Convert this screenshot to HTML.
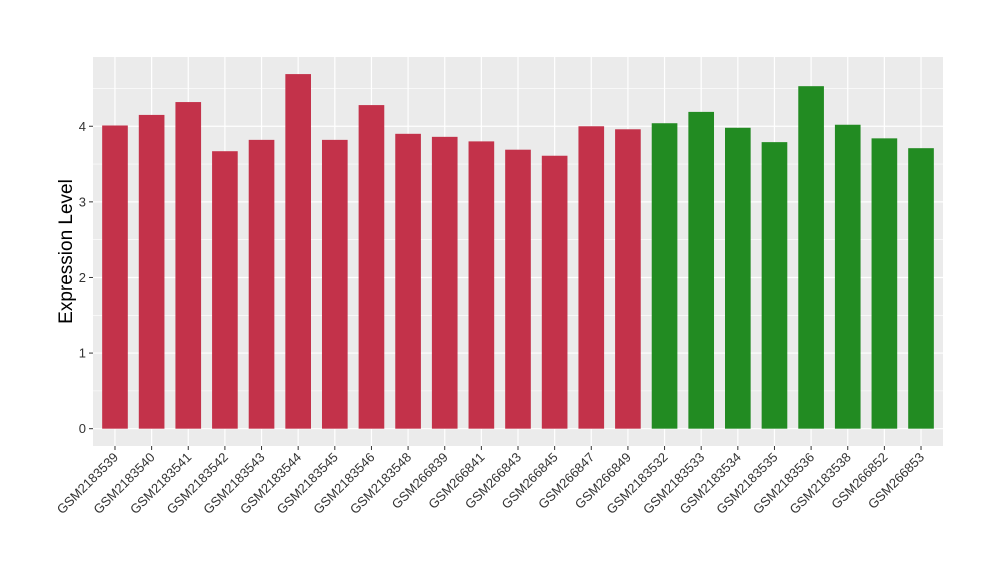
<!DOCTYPE html>
<html><head><meta charset="utf-8"><style>body{margin:0;background:#fff}svg{display:block;font-family:"Liberation Sans",Arial,sans-serif}</style></head>
<body>
<svg id="chart" width="1000" height="580"></svg>
<script>
const categories=["GSM2183539","GSM2183540","GSM2183541","GSM2183542","GSM2183543","GSM2183544","GSM2183545","GSM2183546","GSM2183548","GSM266839","GSM266841","GSM266843","GSM266845","GSM266847","GSM266849","GSM2183532","GSM2183533","GSM2183534","GSM2183535","GSM2183536","GSM2183538","GSM266852","GSM266853"];
const values=[4.01,4.15,4.32,3.67,3.82,4.69,3.82,4.28,3.90,3.86,3.80,3.69,3.61,4.00,3.96,4.04,4.19,3.98,3.79,4.53,4.02,3.84,3.71];
const groups=[0,0,0,0,0,0,0,0,0,0,0,0,0,0,0,1,1,1,1,1,1,1,1];
const yTicks=[0,1,2,3,4];
const colors=["#C3324A","#228B22"];
const NS="http://www.w3.org/2000/svg";
const svg=document.getElementById('chart');
const L=93,R=943,T=57,B=446;
const yMin=-0.229,yMax=4.916;
const y=v=>B-(v-yMin)/(yMax-yMin)*(B-T);
const step=(R-L)/(categories.length-1+1.2);
const x=i=>L+(0.6+i)*step;
function mk(tag,attrs,parent){const e=document.createElementNS(NS,tag);for(const k in attrs)e.setAttribute(k,attrs[k]);(parent||svg).appendChild(e);return e;}
let bg=mk('rect',{x:L,y:T,width:R-L,height:B-T,fill:'#EBEBEB'});


for(let i=0;i<yTicks.length;i++){
  const t=yTicks[i];
  const mv=t+0.5;
  if(y(mv)>T){let m=mk('line',{x1:L,x2:R,y1:y(mv),y2:y(mv),stroke:'#fff','stroke-width':0.6});
  
  }
  let g=mk('line',{x1:L,x2:R,y1:y(t),y2:y(t),stroke:'#fff','stroke-width':1.2});
  
  
  let tk=mk('line',{x1:L-4,x2:L,y1:y(t),y2:y(t),stroke:'#333','stroke-width':1});
  
  
  let lb=mk('text',{x:L-7,y:y(t)+4.5,'text-anchor':'end','font-size':13,fill:'#333'});
  lb.textContent=t;
  
  
}
const bw=step*0.7;
for(let i=0;i<categories.length;i++){
  let g=mk('line',{x1:x(i),x2:x(i),y1:T,y2:B,stroke:'#fff','stroke-width':1.2});
  
  
}
for(let i=0;i<categories.length;i++){
  let b=mk('rect',{x:x(i)-bw/2,y:y(values[i]),width:bw,height:y(0)-y(values[i]),fill:colors[groups[i]]});
  
  
  let tk=mk('line',{x1:x(i),x2:x(i),y1:B,y2:B+4,stroke:'#333','stroke-width':1});
  
  
  let lb=mk('text',{x:x(i)+4,y:B+12,'text-anchor':'end','font-size':13,fill:'#333',transform:`rotate(-45 ${x(i)+4} ${B+12})`});
  lb.textContent=categories[i];
  
  
}
let yt=mk('text',{x:0,y:0,'text-anchor':'middle','font-size':19,fill:'#000',transform:`translate(72 ${(T+B)/2}) rotate(-90)`});
yt.textContent='Expression Level';


</script>
</body></html>
